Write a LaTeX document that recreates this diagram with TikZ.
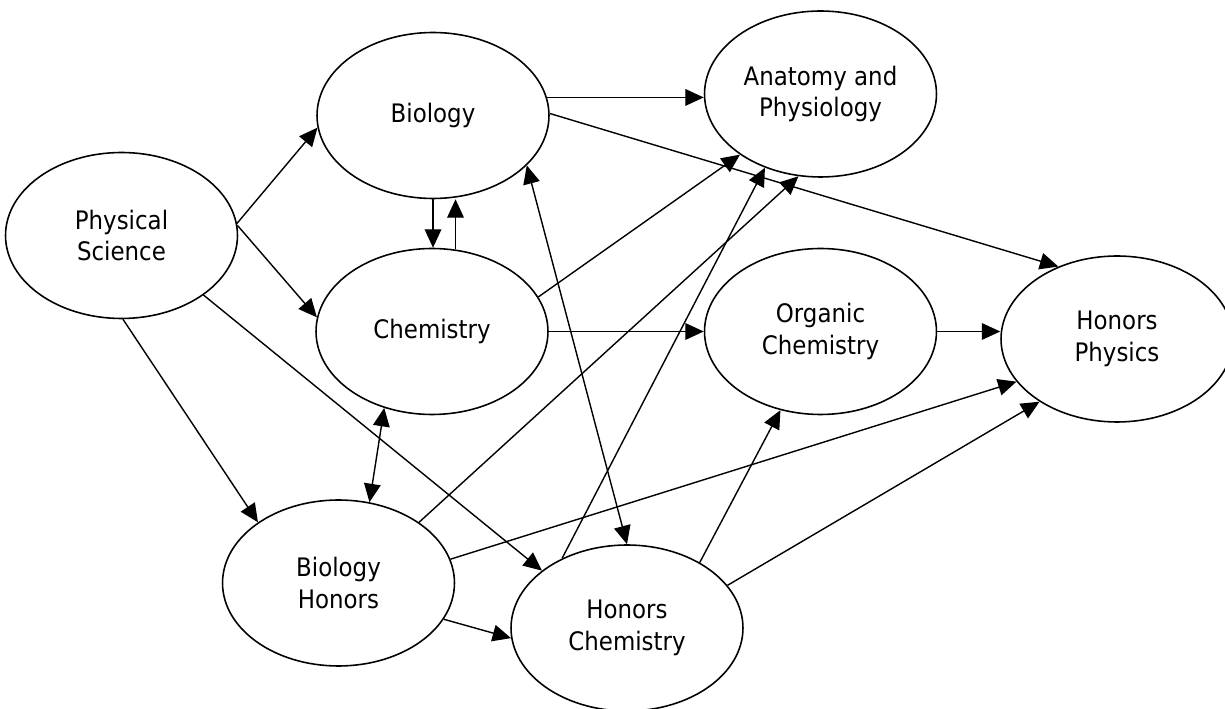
\documentclass[tikz,border=0pt]{standalone}
\usepackage{fontspec}
\setmainfont{DejaVu Sans}[FakeStretch=0.9]
\usetikzlibrary{arrows.meta,shapes.geometric}

\begin{document}
\begin{tikzpicture}[x=0.02cm,y=-0.02cm]
\useasboundingbox (0,0) rectangle (1225,709);
\begin{scope}[every node/.style={ellipse,draw,line width=0.9pt,minimum width=4.64cm,minimum height=3.32cm,inner sep=0pt,align=center,font=\fontsize{14.5}{18}\selectfont}]
    \node (PS) at (121.5,235.5) {Physical\\Science};
    \node (Bio) at (433,115.5) {Biology};
    \node (Chem) at (432,331.5) {Chemistry};
    \node (Anat) at (820.5,94) {Anatomy and\\Physiology};
    \node (Org) at (820.5,331.5) {Organic\\Chemistry};
    \node (HP) at (1117,339) {Honors\\Physics};
    \node (BH) at (338.5,583) {Biology\\Honors};
    \node (HC) at (627,628) {Honors\\Chemistry};
\end{scope}
\begin{scope}[>={Triangle[length=10.5pt,width=9.5pt]},
              every edge/.style={draw,line width=0.8pt}]
    \path [->] (PS.6) edge (Bio.186);
    \path [->] (PS.5) edge (Chem.173);
    \path [->] (PS.271) edge (BH.143);
    \path [->] (PS.324) edge (HC.146);
    \path [->] (Bio.south) edge (Bio.south |- Chem.north);
    \path [->] (Chem.74) edge (Chem.74 |- Bio.south);
    \path [->] (Bio.9) edge (Bio.9 -| Anat.west);
    \path [->] (Bio.1) edge (HP.129);
    \path [->] (Chem.18) edge (Anat.217);
    \path [->] (Chem.east) edge (Org.west);
    \path [<->] (Chem.238) edge (BH.69);
    \path [<->] (Bio.332) edge (HC.north);
    \path [->] (BH.37) edge (Anat.255);
    \path [->] (BH.12) edge (HP.203);
    \path [->] (BH.341) edge (HC.185);
    \path [->] (HC.133) edge (Anat.233);
    \path [->] (HC.42) edge (Org.243);
    \path [->] (HC.23) edge (HP.219);
    \path [->] (Org.east) edge (Org.east -| HP.west);
\end{scope}
\end{tikzpicture}
\end{document}
